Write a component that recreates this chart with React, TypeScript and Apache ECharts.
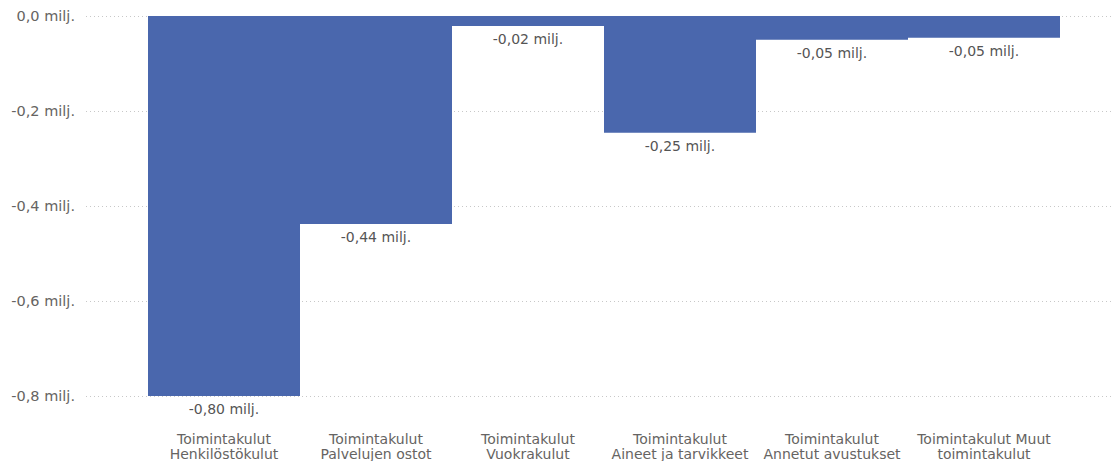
import React, { useEffect, useRef } from "react";
import * as echarts from "echarts";

const categories = [
  "Toimintakulut\nHenkilöstökulut",
  "Toimintakulut\nPalvelujen ostot",
  "Toimintakulut\nVuokrakulut",
  "Toimintakulut\nAineet ja tarvikkeet",
  "Toimintakulut\nAnnetut avustukset",
  "Toimintakulut Muut\ntoimintakulut",
];
const values = [-0.8, -0.438, -0.021, -0.246, -0.05, -0.046];
const yMin = -0.8;
const yMax = 0;
const yInterval = 0.2;

const fmtAxis = (v: number) => (Math.abs(v) < 1e-9 ? "0,0" : v.toFixed(1).replace(".", ",")) + " milj.";
const fmtBar = (v: number) => v.toFixed(2).replace(".", ",") + " milj.";

export default function App() {
  const ref = useRef<HTMLDivElement>(null);
  useEffect(() => {
    if (!ref.current) return;
    const chart = echarts.init(ref.current, undefined, { renderer: "svg" });
    const font = "DejaVu Sans, Verdana, sans-serif";
    chart.setOption({
      animation: false,
      grid: [
        { left: 86, right: 0, top: 16, bottom: 65 },
        { left: 148, right: 51, top: 16, bottom: 65 },
      ],
      xAxis: [
        { type: "value", gridIndex: 0, show: false, min: 0, max: 1 },
        {
          type: "category",
          gridIndex: 1,
          data: categories,
          axisLine: { show: false },
          axisTick: { show: false },
          axisLabel: {
            color: "#666462",
            fontFamily: font,
            fontSize: 14,
            lineHeight: 15,
            margin: 35,
            interval: 0,
          },
        },
      ],
      yAxis: [
        {
          type: "value",
          gridIndex: 0,
          min: yMin,
          max: yMax,
          interval: yInterval,
          axisLine: { show: false },
          axisTick: { show: false },
          axisLabel: {
            formatter: fmtAxis,
            color: "#666462",
            fontFamily: font,
            fontSize: 14.5,
            margin: 11,
          },
          splitLine: { show: true, lineStyle: { type: [1, 3], color: "#c8c8c8", width: 1 } },
        },
        {
          type: "value",
          gridIndex: 1,
          min: yMin,
          max: yMax,
          interval: yInterval,
          show: false,
          splitLine: { show: false },
        },
      ],
      series: [
        {
          type: "bar",
          xAxisIndex: 1,
          yAxisIndex: 1,
          data: values,
          barCategoryGap: "0%",
          itemStyle: { color: "#4A67AD" },
          label: {
            show: true,
            position: "bottom",
            distance: 6,
            formatter: (p: any) => fmtBar(p.value),
            color: "#555555",
            fontFamily: font,
            fontSize: 14,
          },
        },
      ],
    });
    return () => chart.dispose();
  }, []);
  return <div ref={ref} style={{ position: "absolute", left: 0, top: 0, width: 1111, height: 461 }} />;
}
